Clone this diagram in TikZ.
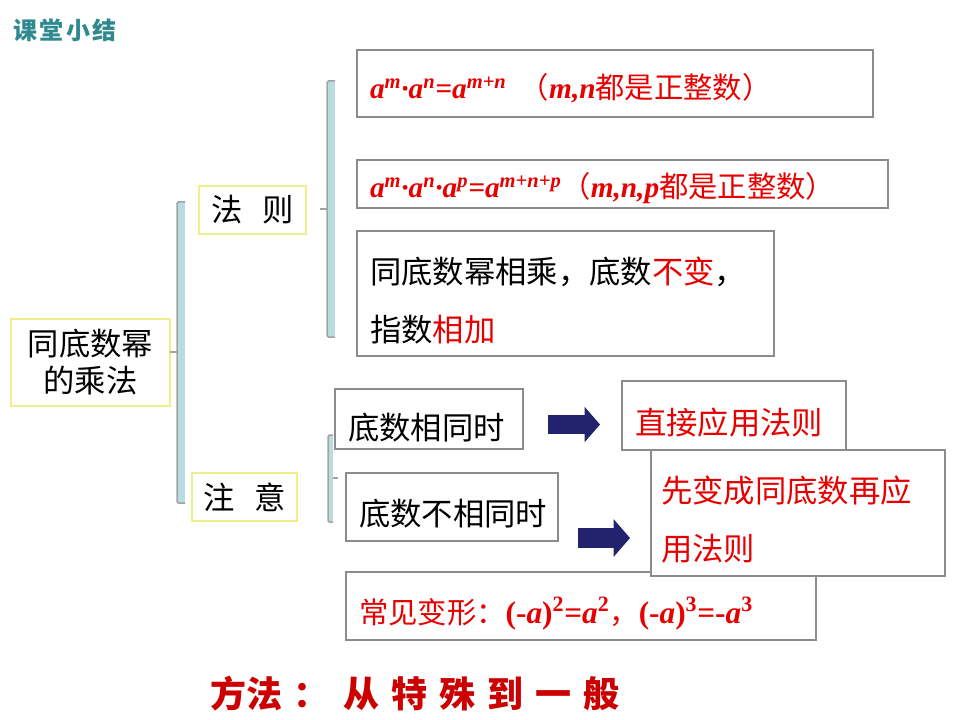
\documentclass[tikz,border=0pt]{standalone}
\usepackage{fontspec}
\setmainfont{Liberation Serif}
\newfontfamily\cjk{Noto Sans CJK SC}
\usepackage{xcolor}
\newlength{\pxu}
\setlength{\pxu}{0.75pt}
\definecolor{boxgray}{HTML}{8C8C8C}
\definecolor{boxyellow}{HTML}{EEEE8C}
\definecolor{barblue}{HTML}{B7DDE3}
\definecolor{bargray}{HTML}{A3A3A3}
\definecolor{arrnavy}{HTML}{22226E}
\definecolor{txtred}{HTML}{E60000}
\definecolor{titleteal}{HTML}{2F8A8F}
\definecolor{methodred}{HTML}{CC0000}
\newcommand{\fml}[1]{{\rmfamily\bfseries\itshape #1}}
\usetikzlibrary{shapes.arrows}

\begin{document}
\begin{tikzpicture}[x=\pxu,y=-\pxu,inner sep=0pt,outer sep=0pt,
  topicbox/.style={draw=boxyellow,line width=2.5\pxu,fill=white,align=center,
    font=\cjk\fontsize{23.5pt}{27.75pt}\selectfont},
  itembox/.style={draw=boxgray,line width=2.5\pxu,fill=white,anchor=north west,
    inner xsep=13\pxu,align=left,text height=28pt,text depth=0pt,
    font=\cjk\fontsize{23.5pt}{43.5pt}\selectfont},
  formula/.style={text=txtred,font=\cjk\fontsize{22pt}{26pt}\selectfont},
  fatarrow/.style={single arrow,fill=arrnavy,anchor=tail,minimum height=52\pxu,
    single arrow tip angle=98},
  sidetick/.style={draw=bargray,line width=1.5\pxu}]
\useasboundingbox (0,0) rectangle (960,720);

\node[anchor=west,text=titleteal,font=\cjk\bfseries\fontsize{18pt}{20pt}\selectfont] (title)
  at (13,30) {课\hspace{2pt}堂\hspace{2pt}小\hspace{2pt}结};

% side bars: x, top, bottom, width
\foreach \bx/\btop/\bbot/\bw in {177/202/503/8,327/81/337/8,328/435/522/5}{
  \fill[barblue] (\bx,\btop) rectangle (\bx+\bw,\bbot);
  \draw[sidetick,rounded corners=1.5\pxu] (\bx+\bw,\btop) -- (\bx,\btop) -- (\bx,\bbot) -- (\bx+\bw,\bbot);
}
\coordinate (mainBar) at (177,352);
\coordinate (ruleBar) at (327,209);
\coordinate (ruleTick) at (320,209);
\coordinate (noteBar) at (333,478);
\coordinate (noteTick) at (338,478);

\node[topicbox,minimum width=159\pxu,minimum height=87\pxu] (topic) at (90.5,362.5) {同底数幂\\的乘法};
\node[topicbox,minimum width=107\pxu,minimum height=48\pxu] (rule) at (252.5,210) {法\hspace{15pt}则};
\node[topicbox,minimum width=105\pxu,minimum height=48\pxu] (note) at (244.5,497) {注\hspace{15pt}意};

\draw[sidetick] (topic.east |- mainBar) -- (mainBar);
\draw[sidetick] (ruleTick) -- (ruleBar);
\draw[sidetick] (noteBar) -- (noteTick);

\node[itembox,formula,text height=22pt,minimum width=516\pxu,minimum height=67\pxu,text width=490\pxu] (law1) at (357,50)
  {\fml{a\textsuperscript{m}·a\textsuperscript{n}=a\textsuperscript{m+n}}\hspace{10pt}（\fml{m,n}都是正整数）};
\node[itembox,formula,text height=20pt,minimum width=531\pxu,minimum height=48\pxu,text width=505\pxu] (law2) at (357,160)
  {\fml{a\textsuperscript{m}·a\textsuperscript{n}·a\textsuperscript{p}=a\textsuperscript{m+n+p}}（\fml{m,n,p}都是正整数）};
\node[itembox,text depth=43.5pt,minimum width=417\pxu,minimum height=125\pxu,text width=391\pxu] (law3) at (357,231)
  {同底数幂相乘，底数\textcolor{txtred}{不变}，\\指数\textcolor{txtred}{相加}};

\node[itembox,text height=30pt,minimum width=188\pxu,minimum height=60\pxu,text width=162\pxu] (same) at (335,389) {底数相同时};
\node[itembox,text=txtred,minimum width=224\pxu,minimum height=69\pxu,text width=198\pxu] (sameDo) at (622,381) {直接应用法则};
\node[fatarrow,text height=9\pxu,text depth=9\pxu,single arrow head extend=8.5\pxu] (go1) at (548,424.5) {};

\node[itembox,minimum width=212\pxu,minimum height=68\pxu,text width=186\pxu] (diff) at (346,473) {底数不相同时};
\node[itembox,formula,text height=26pt,minimum width=470\pxu,minimum height=68\pxu,text width=444\pxu] (sign) at (346,572)
  {常见变形：{\rmfamily\bfseries\fontsize{23.5pt}{26pt}\selectfont(-\textit{a})\textsuperscript{2}=\textit{a}\textsuperscript{2}}，{\rmfamily\bfseries\fontsize{23.5pt}{26pt}\selectfont(-\textit{a})\textsuperscript{3}=-\textit{a}\textsuperscript{3}}};
\node[itembox,text=txtred,inner xsep=10\pxu,text depth=43.5pt,minimum width=294\pxu,minimum height=126\pxu,text width=274\pxu] (diffDo) at (651,450)
  {先变成同底数再应\\用法则};
\node[fatarrow,text height=9.5\pxu,text depth=9.5\pxu,single arrow head extend=9\pxu] (go2) at (578,538) {};

\node[anchor=west,text=methodred,font=\cjk\bfseries\fontsize{27pt}{30pt}\selectfont] (method) at (210,694)
  {方法\hspace{9pt}：\hspace{10pt}从\hspace{9pt}特\hspace{9pt}殊\hspace{9pt}到\hspace{9pt}一\hspace{9pt}般};
\end{tikzpicture}
\end{document}
